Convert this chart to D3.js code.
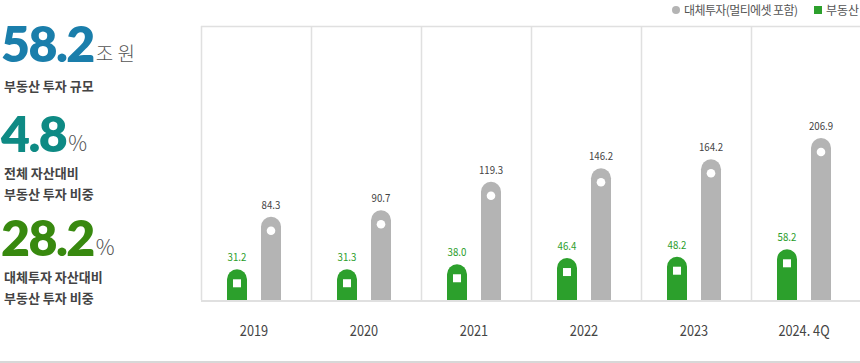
<!DOCTYPE html>
<html><head><meta charset="utf-8">
<script src="https://cdn.jsdelivr.net/npm/d3@7/dist/d3.min.js"></script>
<style>body{margin:0;background:#fff}svg{display:block}text{font-family:"Noto Sans CJK KR","Noto Sans",sans-serif}</style>
</head><body><svg id="c" width="860" height="363"></svg>
<script>
const categories = ["2019","2020","2021","2022","2023","2024. 4Q"];
const realEstate = [31.2,31.3,38.0,46.4,48.2,58.2];
const alternative = [84.3,90.7,119.3,146.2,164.2,206.9];
const seriesNames = ["대체투자(멀티에셋 포함)","부동산"];
const kpiValues = ["58.2","4.8","28.2"];
const kpiUnits = ["조 원","%","%"];
const kpiLabels = [["부동산 투자 규모"],["전체 자산대비","부동산 투자 비중"],["대체투자 자산대비","부동산 투자 비중"]];

const svg = d3.select("#c");
const green = "#2ca02c", gray = "#b4b4b4", line = "#e0e0e0";

// KPI block
const kpiColors = ["#1a7eab","#0e8a84","#38890f"];
const kpiBase = [62, 152, 256];
const numSize = 49;
kpiValues.forEach((v,i)=>{
  const t = svg.append("text").attr("transform",`translate(1,${kpiBase[i]}) scale(1.02,1)`)
    .style("font-family","Lato, 'Noto Sans', sans-serif")
    .attr("font-size",numSize).attr("font-weight",800).attr("fill",kpiColors[i])
    .attr("letter-spacing",-1.5).text(v);
  const w = t.node().getComputedTextLength()*1.02;
  svg.append("text").attr("x",w+3).attr("y",kpiBase[i]-1).attr("font-size",i===0?19:21)
    .attr("font-weight",300).attr("fill","#555").text(kpiUnits[i]);
  kpiLabels[i].forEach((l,j)=>{
    svg.append("text").attr("x",4).attr("y",kpiBase[i]+(i===0?29:26)+j*21).attr("font-size",13)
      .attr("font-weight",700).attr("fill","#444").text(l);
  });
});

// Legend
svg.append("circle").attr("cx",676).attr("cy",10).attr("r",4).attr("fill",gray);
svg.append("text").attr("x",684).attr("y",14.5).attr("font-size",12).attr("fill","#555")
  .attr("letter-spacing",-0.6).text(seriesNames[0]);
svg.append("rect").attr("x",814).attr("y",6).attr("width",8).attr("height",8).attr("fill",green);
svg.append("text").attr("x",826).attr("y",14.5).attr("font-size",12).attr("fill","#555").text(seriesNames[1]);

// Scales
const bottom = 300;
const x = d3.scaleBand().domain(categories).range([201,861]);
const xs = d3.scaleBand().domain(["re","alt"]).range([26,80]).paddingInner(14/34);
// the source infographic is not drawn to a linear scale; piecewise-linear fit
const h = d3.scaleLinear().domain([0,31.2,58.2,84.3,119.3,206.9]).range([0,30.7,50.7,83.3,118.3,162]);

// Frame
const g = svg.append("g");
categories.forEach(c=>{
  g.append("line").attr("x1",x(c)+0.5).attr("x2",x(c)+0.5).attr("y1",26).attr("y2",bottom)
    .attr("stroke",line).attr("stroke-width",1.5);
});
g.append("line").attr("x1",201).attr("x2",860).attr("y1",26.5).attr("y2",26.5).attr("stroke",line).attr("stroke-width",1.5);
g.append("line").attr("x1",201).attr("x2",860).attr("y1",bottom+1).attr("y2",bottom+1).attr("stroke",line).attr("stroke-width",2);
svg.append("line").attr("x1",0).attr("x2",860).attr("y1",362).attr("y2",362).attr("stroke","#d8d8d8").attr("stroke-width",2);

function barPath(x0,w,top){
  const r=w/2;
  return `M${x0},${bottom}V${top+r}A${r},${r} 0 0 1 ${x0+w},${top+r}V${bottom}Z`;
}
const bw = xs.bandwidth();
const data = categories.map((c,i)=>({c, re:realEstate[i], alt:alternative[i]}));

data.forEach(d=>{
  [["re",green],["alt",gray]].forEach(([k,col])=>{
    const x0 = x(d.c)+xs(k);
    const top = bottom - h(d[k]);
    svg.append("path").attr("d",barPath(x0,bw,top)).attr("fill",col);
    if(k==="re"){
      svg.append("rect").attr("x",x0+bw/2-4).attr("y",top+10).attr("width",8).attr("height",8).attr("fill","#fff");
    } else {
      svg.append("circle").attr("cx",x0+bw/2).attr("cy",top+14).attr("r",4.3).attr("fill","#fff");
    }
    svg.append("text").attr("transform",`translate(${x0+bw/2},${top-8}) scale(0.88,1)`)
      .attr("text-anchor","middle").attr("font-size",11)
      .attr("fill",k==="re"?"#2a9d2a":"#444").text(d3.format(".1f")(d[k]));
  });
  svg.append("text").attr("transform",`translate(${x(d.c)+53},${336}) scale(0.85,1)`)
    .attr("text-anchor","middle").attr("font-size",15).attr("fill","#444").text(d.c);
});
</script></body></html>
